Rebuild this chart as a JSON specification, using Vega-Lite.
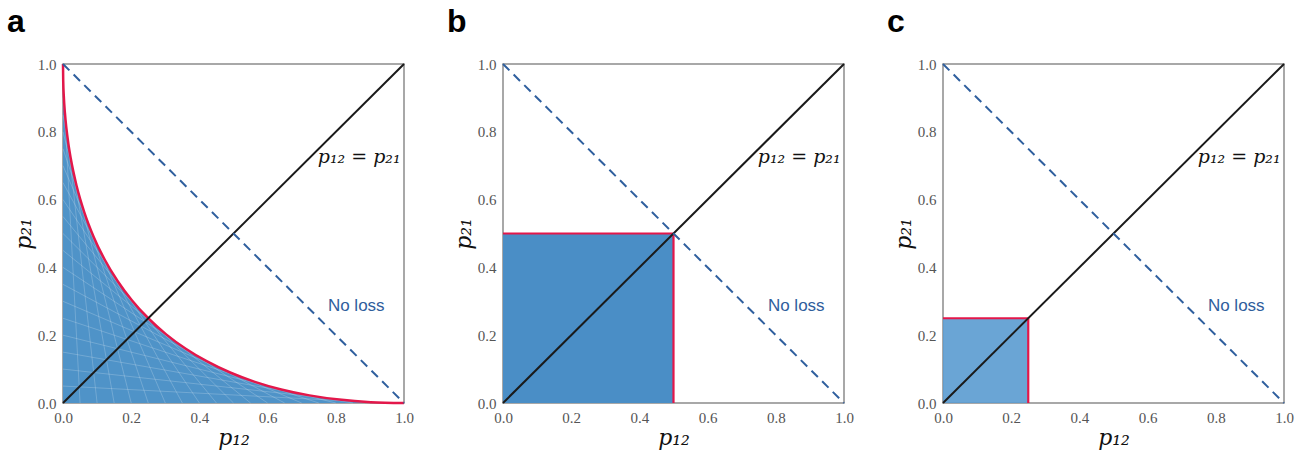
{
  "$schema": "https://vega.github.io/schema/vega-lite/v6.json",
  "padding": {"left": 6, "top": 5, "right": 5, "bottom": 2},
  "background": "white",
  "config": {
    "view": {"stroke": "#8c8c8c", "strokeWidth": 1.5},
    "axis": {
      "grid": false, "ticks": false, "domain": false,
      "labelFont": "Liberation Serif", "labelFontSize": 15, "labelColor": "#555555",
      "labelFlush": false, "labelPadding": 7,
      "titleFont": "DejaVu Serif", "titleFontStyle": "italic", "titleFontWeight": "normal",
      "titleFontSize": 22, "titleColor": "#111111", "titlePadding": 2
    },
    "title": {"font": "Liberation Sans", "fontSize": 32, "fontWeight": "bold", "color": "#000000", "anchor": "start", "frame": "group"}
  },
  "datasets": {
    "curve": [
      {"x": 0, "y": 1}, {"x": 0.000625, "y": 0.950625}, {"x": 0.0025, "y": 0.9025},
      {"x": 0.005625, "y": 0.855625}, {"x": 0.01, "y": 0.81}, {"x": 0.015625, "y": 0.765625},
      {"x": 0.0225, "y": 0.7225}, {"x": 0.04, "y": 0.64}, {"x": 0.0625, "y": 0.5625},
      {"x": 0.09, "y": 0.49}, {"x": 0.1225, "y": 0.4225}, {"x": 0.16, "y": 0.36},
      {"x": 0.2025, "y": 0.3025}, {"x": 0.25, "y": 0.25}, {"x": 0.3025, "y": 0.2025},
      {"x": 0.36, "y": 0.16}, {"x": 0.4225, "y": 0.1225}, {"x": 0.49, "y": 0.09},
      {"x": 0.5625, "y": 0.0625}, {"x": 0.64, "y": 0.04}, {"x": 0.7225, "y": 0.0225},
      {"x": 0.81, "y": 0.01}, {"x": 0.9025, "y": 0.0025}, {"x": 1, "y": 0}
    ],
    "mesh": [
      {"x": 0.05, "y": 0, "x2": 0, "y2": 0.95}, {"x": 0.1, "y": 0, "x2": 0, "y2": 0.9},
      {"x": 0.15, "y": 0, "x2": 0, "y2": 0.85}, {"x": 0.2, "y": 0, "x2": 0, "y2": 0.8},
      {"x": 0.25, "y": 0, "x2": 0, "y2": 0.75}, {"x": 0.3, "y": 0, "x2": 0, "y2": 0.7},
      {"x": 0.35, "y": 0, "x2": 0, "y2": 0.65}, {"x": 0.4, "y": 0, "x2": 0, "y2": 0.6},
      {"x": 0.45, "y": 0, "x2": 0, "y2": 0.55}, {"x": 0.5, "y": 0, "x2": 0, "y2": 0.5},
      {"x": 0.55, "y": 0, "x2": 0, "y2": 0.45}, {"x": 0.6, "y": 0, "x2": 0, "y2": 0.4},
      {"x": 0.65, "y": 0, "x2": 0, "y2": 0.35}, {"x": 0.7, "y": 0, "x2": 0, "y2": 0.3},
      {"x": 0.75, "y": 0, "x2": 0, "y2": 0.25}, {"x": 0.8, "y": 0, "x2": 0, "y2": 0.2},
      {"x": 0.85, "y": 0, "x2": 0, "y2": 0.15}, {"x": 0.9, "y": 0, "x2": 0, "y2": 0.1},
      {"x": 0.95, "y": 0, "x2": 0, "y2": 0.05}
    ],
    "diag": [{"x": 0, "y": 0, "x2": 1, "y2": 1}],
    "anti": [{"x": 0, "y": 1, "x2": 1, "y2": 0}],
    "sqB": [{"x": 0, "y": 0, "x2": 0.5, "y2": 0.5}],
    "boxB": [{"x": 0, "y": 0.5, "x2": 0.5, "y2": 0.5}, {"x": 0.5, "y": 0.5, "x2": 0.5, "y2": 0}],
    "sqC": [{"x": 0, "y": 0, "x2": 0.25, "y2": 0.25}],
    "boxC": [{"x": 0, "y": 0.25, "x2": 0.25, "y2": 0.25}, {"x": 0.25, "y": 0.25, "x2": 0.25, "y2": 0}],
    "eq": [{"x": 0.99, "y": 0.725, "label": "p₁₂ = p₂₁"}],
    "noloss": [{"x": 0.86, "y": 0.286, "label": "No loss"}]
  },
  "bounds": "flush",
  "spacing": 99,
  "hconcat": [
    {
      "width": 341, "height": 339,
      "title": {"text": "a", "dx": -56, "offset": 18},
      "encoding": {
        "x": {"field": "x", "type": "quantitative", "scale": {"domain": [0, 1], "nice": false}, "title": "p₁₂", "axis": {"values": [0, 0.2, 0.4, 0.6, 0.8, 1.0], "format": ".1f"}},
        "y": {"field": "y", "type": "quantitative", "scale": {"domain": [0, 1], "nice": false}, "title": "p₂₁", "axis": {"values": [0, 0.2, 0.4, 0.6, 0.8, 1.0], "format": ".1f"}}
      },
      "layer": [
        {"data": {"name": "curve"}, "mark": {"type": "area", "color": "#4f93c8", "interpolate": "monotone"}},
        {"data": {"name": "mesh"}, "mark": {"type": "rule", "color": "#ffffff", "opacity": 0.25, "strokeWidth": 0.8},
          "encoding": {"x2": {"field": "x2"}, "y2": {"field": "y2"}}},
        {"data": {"name": "curve"}, "mark": {"type": "line", "color": "#e3174a", "strokeWidth": 2.5, "interpolate": "monotone"}},
        {"data": {"name": "diag"}, "mark": {"type": "rule", "color": "#1a1a1a", "strokeWidth": 2},
          "encoding": {"x2": {"field": "x2"}, "y2": {"field": "y2"}}},
        {"data": {"name": "anti"}, "mark": {"type": "rule", "color": "#2f5f9e", "strokeWidth": 2, "strokeDash": [9, 6]},
          "encoding": {"x2": {"field": "x2"}, "y2": {"field": "y2"}}},
        {"data": {"name": "eq"}, "mark": {"type": "text", "align": "right", "baseline": "middle", "font": "DejaVu Serif", "fontStyle": "italic", "fontSize": 19, "color": "#111111"},
          "encoding": {"text": {"field": "label"}}},
        {"data": {"name": "noloss"}, "mark": {"type": "text", "align": "center", "baseline": "middle", "font": "Liberation Sans", "fontSize": 17, "color": "#2f5d9c"},
          "encoding": {"text": {"field": "label"}}}
      ]
    },
    {
      "width": 341, "height": 339,
      "title": {"text": "b", "dx": -56, "offset": 18},
      "encoding": {
        "x": {"field": "x", "type": "quantitative", "scale": {"domain": [0, 1], "nice": false}, "title": "p₁₂", "axis": {"values": [0, 0.2, 0.4, 0.6, 0.8, 1.0], "format": ".1f"}},
        "y": {"field": "y", "type": "quantitative", "scale": {"domain": [0, 1], "nice": false}, "title": "p₂₁", "axis": {"values": [0, 0.2, 0.4, 0.6, 0.8, 1.0], "format": ".1f"}}
      },
      "layer": [
        {"data": {"name": "sqB"}, "mark": {"type": "rect", "color": "#4a8ec6"},
          "encoding": {"x2": {"field": "x2"}, "y2": {"field": "y2"}}},
        {"data": {"name": "boxB"}, "mark": {"type": "rule", "color": "#e3174a", "strokeWidth": 2.2},
          "encoding": {"x2": {"field": "x2"}, "y2": {"field": "y2"}}},
        {"data": {"name": "diag"}, "mark": {"type": "rule", "color": "#1a1a1a", "strokeWidth": 2},
          "encoding": {"x2": {"field": "x2"}, "y2": {"field": "y2"}}},
        {"data": {"name": "anti"}, "mark": {"type": "rule", "color": "#2f5f9e", "strokeWidth": 2, "strokeDash": [9, 6]},
          "encoding": {"x2": {"field": "x2"}, "y2": {"field": "y2"}}},
        {"data": {"name": "eq"}, "mark": {"type": "text", "align": "right", "baseline": "middle", "font": "DejaVu Serif", "fontStyle": "italic", "fontSize": 19, "color": "#111111"},
          "encoding": {"text": {"field": "label"}}},
        {"data": {"name": "noloss"}, "mark": {"type": "text", "align": "center", "baseline": "middle", "font": "Liberation Sans", "fontSize": 17, "color": "#2f5d9c"},
          "encoding": {"text": {"field": "label"}}}
      ]
    },
    {
      "width": 341, "height": 339,
      "title": {"text": "c", "dx": -56, "offset": 18},
      "encoding": {
        "x": {"field": "x", "type": "quantitative", "scale": {"domain": [0, 1], "nice": false}, "title": "p₁₂", "axis": {"values": [0, 0.2, 0.4, 0.6, 0.8, 1.0], "format": ".1f"}},
        "y": {"field": "y", "type": "quantitative", "scale": {"domain": [0, 1], "nice": false}, "title": "p₂₁", "axis": {"values": [0, 0.2, 0.4, 0.6, 0.8, 1.0], "format": ".1f"}}
      },
      "layer": [
        {"data": {"name": "sqC"}, "mark": {"type": "rect", "color": "#5a9bd0", "opacity": 0.9},
          "encoding": {"x2": {"field": "x2"}, "y2": {"field": "y2"}}},
        {"data": {"name": "boxC"}, "mark": {"type": "rule", "color": "#e3174a", "strokeWidth": 2.2},
          "encoding": {"x2": {"field": "x2"}, "y2": {"field": "y2"}}},
        {"data": {"name": "diag"}, "mark": {"type": "rule", "color": "#1a1a1a", "strokeWidth": 2},
          "encoding": {"x2": {"field": "x2"}, "y2": {"field": "y2"}}},
        {"data": {"name": "anti"}, "mark": {"type": "rule", "color": "#2f5f9e", "strokeWidth": 2, "strokeDash": [9, 6]},
          "encoding": {"x2": {"field": "x2"}, "y2": {"field": "y2"}}},
        {"data": {"name": "eq"}, "mark": {"type": "text", "align": "right", "baseline": "middle", "font": "DejaVu Serif", "fontStyle": "italic", "fontSize": 19, "color": "#111111"},
          "encoding": {"text": {"field": "label"}}},
        {"data": {"name": "noloss"}, "mark": {"type": "text", "align": "center", "baseline": "middle", "font": "Liberation Sans", "fontSize": 17, "color": "#2f5d9c"},
          "encoding": {"text": {"field": "label"}}}
      ]
    }
  ]
}
